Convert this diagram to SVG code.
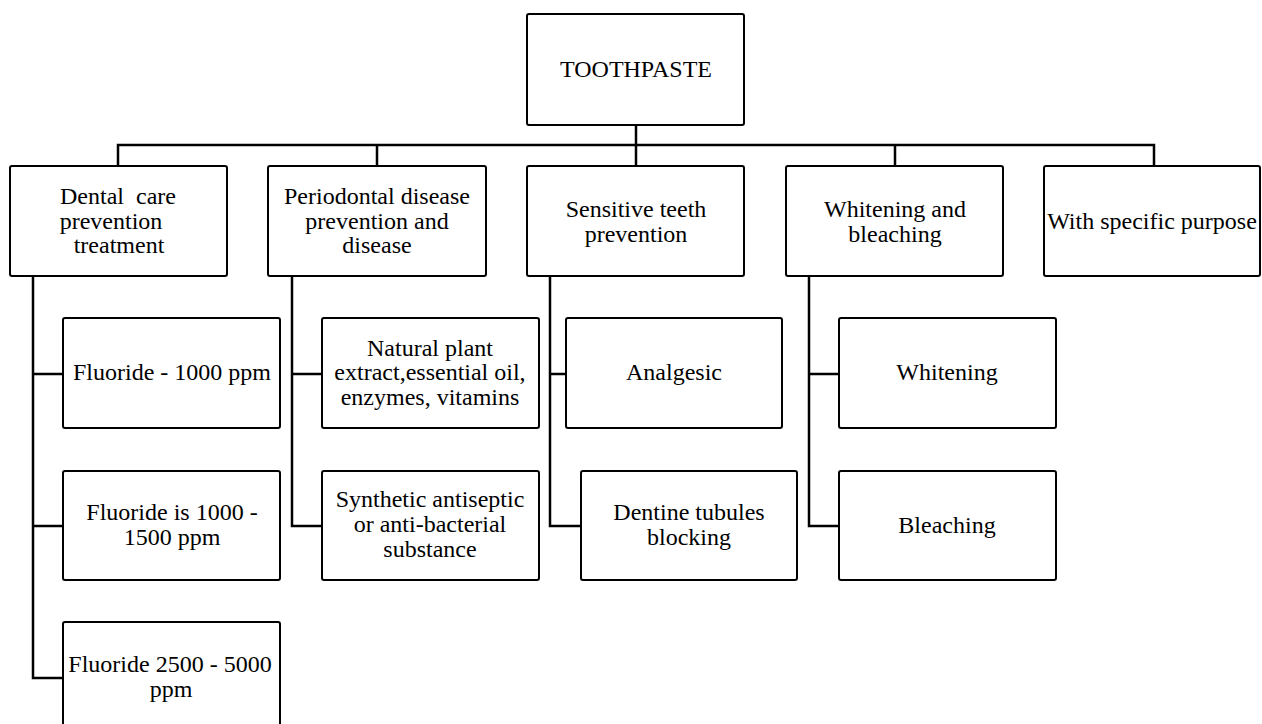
<svg xmlns="http://www.w3.org/2000/svg" width="1262" height="724" viewBox="0 0 1262 724">
<style>
.box{fill:#fff;stroke:#000;stroke-width:2}
.t{font-family:"Liberation Serif","Times New Roman",serif;font-size:24px;fill:#000;text-anchor:middle}
.c{fill:none;stroke:#000;stroke-width:2.5}
</style>
<rect width="1262" height="724" fill="#fff"/>
<g id="connectors">
<path class="c" d="M636 125V166" stroke-width="3.5"/>
<path class="c" d="M118 166V145H1154V166"/>
<path class="c" d="M377 145V166M895 145V166"/>
<path class="c" d="M33 276V678H63M33 374H63M33 526H63"/>
<path class="c" d="M292 276V526H322M292 374H322"/>
<path class="c" d="M550 276V526H581M550 374H566"/>
<path class="c" d="M809 276V526H839M809 374H839"/>
</g>
<g id="toothpaste"><rect class="box" x="527" y="14" width="217" height="111" rx="2"/><text class="t" x="636" y="77">TOOTHPASTE</text></g>
<g id="dental"><rect class="box" x="10" y="166" width="217" height="110" rx="2"/><text class="t" x="118" y="204" xml:space="preserve">Dental  care</text><text class="t" x="111" y="229">prevention</text><text class="t" x="119" y="253">treatment</text></g>
<g id="periodontal"><rect class="box" x="268" y="166" width="218" height="110" rx="2"/><text class="t" x="377" y="204">Periodontal disease</text><text class="t" x="377" y="229">prevention and</text><text class="t" x="377" y="253">disease</text></g>
<g id="sensitive"><rect class="box" x="527" y="166" width="217" height="110" rx="2"/><text class="t" x="636" y="217">Sensitive teeth</text><text class="t" x="636" y="242">prevention</text></g>
<g id="whitening-bleaching"><rect class="box" x="786" y="166" width="217" height="110" rx="2"/><text class="t" x="895" y="217">Whitening and</text><text class="t" x="895" y="242">bleaching</text></g>
<g id="specific"><rect class="box" x="1044" y="166" width="216" height="110" rx="2"/><text class="t" x="1152" y="229">With specific purpose</text></g>
<g id="fluoride1000"><rect class="box" x="63" y="318" width="217" height="110" rx="2"/><text class="t" x="172" y="380">Fluoride - 1000 ppm</text></g>
<g id="fluoride1500"><rect class="box" x="63" y="471" width="217" height="109" rx="2"/><text class="t" x="172" y="520">Fluoride is 1000 -</text><text class="t" x="172" y="545">1500 ppm</text></g>
<g id="fluoride5000"><rect class="box" x="63" y="622" width="217" height="110" rx="2"/><text class="t" x="170" y="672">Fluoride 2500 - 5000</text><text class="t" x="171" y="697">ppm</text></g>
<g id="natural"><rect class="box" x="322" y="318" width="217" height="110" rx="2"/><text class="t" x="430" y="356">Natural plant</text><text class="t" x="430" y="380">extract,essential oil,</text><text class="t" x="430" y="405">enzymes, vitamins</text></g>
<g id="synthetic"><rect class="box" x="322" y="471" width="217" height="109" rx="2"/><text class="t" x="430" y="507">Synthetic antiseptic</text><text class="t" x="430" y="532">or anti-bacterial</text><text class="t" x="430" y="557">substance</text></g>
<g id="analgesic"><rect class="box" x="566" y="318" width="216" height="110" rx="2"/><text class="t" x="674" y="380">Analgesic</text></g>
<g id="dentine"><rect class="box" x="581" y="471" width="216" height="109" rx="2"/><text class="t" x="689" y="520">Dentine tubules</text><text class="t" x="689" y="545">blocking</text></g>
<g id="whitening"><rect class="box" x="839" y="318" width="217" height="110" rx="2"/><text class="t" x="947" y="380">Whitening</text></g>
<g id="bleaching"><rect class="box" x="839" y="471" width="217" height="109" rx="2"/><text class="t" x="947" y="533">Bleaching</text></g>
</svg>
